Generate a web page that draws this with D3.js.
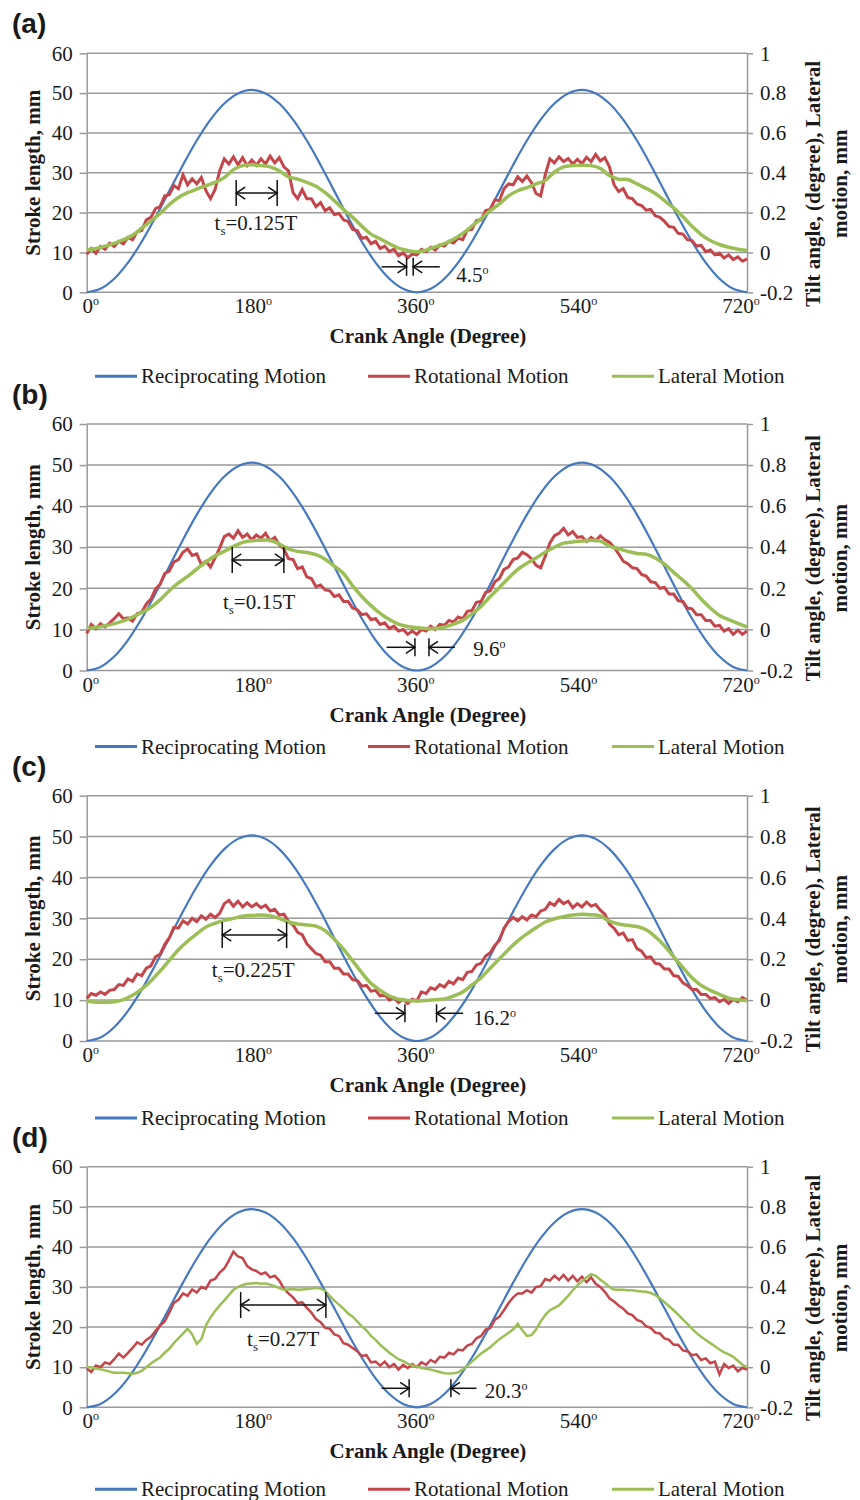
<!DOCTYPE html>
<html>
<head>
<meta charset="utf-8">
<script src="https://cdn.jsdelivr.net/npm/d3@7"></script>
<style>
  body { margin: 0; background: #fff; }
  text { font-family: "Liberation Serif", "Times New Roman", serif; fill: #1a1a1a; }
  text.plabel { font-family: "Liberation Sans", Arial, sans-serif; }
</style>
</head>
<body>
<script>
// axis ticks and names
var leftTicks = [0, 10, 20, 30, 40, 50, 60];
var rightTicks = [-0.2, 0, 0.2, 0.4, 0.6, 0.8, 1];
var angleTicks = [0, 180, 360, 540, 720];
var seriesNames = ["Reciprocating Motion", "Rotational Motion", "Lateral Motion"];
var panelLabels = ["(a)", "(b)", "(c)", "(d)"];

// reciprocating motion, stroke length mm, every 15 deg
var recipA = [0,0.87,3.4,7.44,12.7,18.83,25.4,31.97,38.1,43.36,47.4,49.93,50.8,49.93,47.4,43.36,38.1,31.97,25.4,18.83,12.7,7.44,3.4,0.87,0,0.87,3.4,7.44,12.7,18.83,25.4,31.97,38.1,43.36,47.4,49.93,50.8,49.93,47.4,43.36,38.1,31.97,25.4,18.83,12.7,7.44,3.4,0.87,0];
var recipB = [0,0.86,3.39,7.41,12.65,18.75,25.3,31.85,37.95,43.19,47.21,49.74,50.6,49.74,47.21,43.19,37.95,31.85,25.3,18.75,12.65,7.41,3.39,0.86,0,0.86,3.39,7.41,12.65,18.75,25.3,31.85,37.95,43.19,47.21,49.74,50.6,49.74,47.21,43.19,37.95,31.85,25.3,18.75,12.65,7.41,3.39,0.86,0];
var recipC = [0,0.86,3.37,7.37,12.58,18.64,25.15,31.66,37.73,42.94,46.93,49.44,50.3,49.44,46.93,42.94,37.73,31.66,25.15,18.64,12.58,7.37,3.37,0.86,0,0.86,3.37,7.37,12.58,18.64,25.15,31.66,37.73,42.94,46.93,49.44,50.3,49.44,46.93,42.94,37.73,31.66,25.15,18.64,12.58,7.37,3.37,0.86,0];
var recipD = [0,0.84,3.31,7.23,12.35,18.31,24.7,31.09,37.05,42.17,46.09,48.56,49.4,48.56,46.09,42.17,37.05,31.09,24.7,18.31,12.35,7.23,3.31,0.84,0,0.84,3.31,7.23,12.35,18.31,24.7,31.09,37.05,42.17,46.09,48.56,49.4,48.56,46.09,42.17,37.05,31.09,24.7,18.31,12.35,7.23,3.31,0.84,0];

// rotational motion, tilt angle deg (right axis), every 5 deg
var rotA = [-0.01,0.02,-0.004,0.03,0.016,0.046,0.03,0.056,0.044,0.076,
  0.064,0.104,0.11,0.164,0.176,0.22,0.23,0.284,0.29,0.336,
  0.32,0.39,0.34,0.37,0.344,0.376,0.31,0.27,0.316,0.41,
  0.47,0.444,0.48,0.44,0.476,0.436,0.464,0.438,0.47,0.444,
  0.484,0.45,0.476,0.43,0.41,0.3,0.27,0.316,0.27,0.27,
  0.23,0.25,0.21,0.224,0.19,0.196,0.164,0.156,0.116,0.11,
  0.07,0.076,0.044,0.056,0.02,0.032,0.004,0.016,-0.016,-0.002,
  -0.026,-0.008,-0.012,0.016,0.004,0.026,0.012,0.038,0.032,0.056,
  0.048,0.072,0.064,0.112,0.116,0.16,0.164,0.21,0.216,0.264,
  0.26,0.32,0.344,0.34,0.38,0.356,0.384,0.35,0.296,0.284,
  0.39,0.47,0.45,0.48,0.456,0.472,0.444,0.468,0.446,0.478,
  0.456,0.492,0.46,0.476,0.43,0.34,0.306,0.32,0.276,0.27,
  0.244,0.236,0.212,0.216,0.184,0.176,0.156,0.13,0.126,0.096,
  0.092,0.064,0.06,0.032,0.036,0.004,0.012,-0.012,-0.004,-0.028,
  -0.012,-0.036,-0.022,-0.044,-0.032];
var rotB = [-0.02,0.024,0.004,0.028,0.012,0.032,0.052,0.076,0.052,0.056,
  0.04,0.076,0.084,0.124,0.148,0.196,0.22,0.272,0.284,0.328,
  0.34,0.376,0.392,0.36,0.368,0.316,0.332,0.304,0.348,0.396,
  0.452,0.464,0.444,0.48,0.448,0.464,0.436,0.46,0.444,0.468,
  0.432,0.448,0.412,0.392,0.344,0.34,0.296,0.304,0.256,0.248,
  0.208,0.216,0.192,0.188,0.16,0.168,0.136,0.136,0.104,0.096,
  0.072,0.076,0.048,0.052,0.024,0.032,0.004,0.016,-0.008,0,
  -0.024,-0.008,-0.024,0,-0.008,0.016,0,0.024,0.02,0.044,
  0.036,0.06,0.052,0.088,0.092,0.132,0.136,0.18,0.188,0.232,
  0.248,0.292,0.304,0.34,0.348,0.376,0.364,0.344,0.312,0.3,
  0.356,0.42,0.456,0.468,0.492,0.46,0.476,0.448,0.452,0.428,
  0.448,0.432,0.456,0.436,0.424,0.4,0.368,0.332,0.32,0.3,
  0.296,0.268,0.26,0.232,0.228,0.2,0.204,0.172,0.172,0.14,
  0.136,0.104,0.1,0.072,0.072,0.044,0.044,0.016,0.02,-0.008,
  0.004,-0.024,-0.004,-0.024,-0.008];
var rotC = [0.008,0.032,0.024,0.04,0.028,0.048,0.052,0.076,0.072,0.104,
  0.092,0.128,0.12,0.156,0.168,0.212,0.224,0.272,0.304,0.356,
  0.352,0.388,0.372,0.4,0.384,0.412,0.396,0.42,0.404,0.424,
  0.472,0.488,0.46,0.484,0.456,0.476,0.456,0.472,0.452,0.464,
  0.436,0.444,0.416,0.42,0.384,0.368,0.332,0.32,0.276,0.252,
  0.228,0.22,0.188,0.188,0.156,0.156,0.128,0.128,0.1,0.096,
  0.068,0.072,0.044,0.048,0.02,0.028,0,0.012,-0.012,0.004,
  -0.016,0.004,-0.004,0.04,0.032,0.06,0.052,0.076,0.064,0.092,
  0.08,0.108,0.1,0.136,0.14,0.172,0.18,0.216,0.232,0.268,
  0.292,0.352,0.384,0.404,0.388,0.408,0.392,0.416,0.408,0.436,
  0.444,0.476,0.464,0.492,0.472,0.484,0.452,0.472,0.456,0.48,
  0.46,0.468,0.44,0.42,0.372,0.352,0.32,0.328,0.292,0.296,
  0.252,0.24,0.208,0.212,0.18,0.176,0.152,0.152,0.12,0.116,
  0.084,0.072,0.052,0.052,0.028,0.028,0.008,0.012,-0.008,0.004,
  -0.016,0.004,-0.008,0.012,0];
var rotD = [-0.006,-0.024,0.008,0,0.024,0.016,0.04,0.068,0.048,0.072,
  0.096,0.124,0.112,0.136,0.152,0.18,0.208,0.228,0.272,0.32,
  0.336,0.368,0.356,0.388,0.372,0.4,0.392,0.432,0.44,0.472,
  0.492,0.532,0.576,0.552,0.544,0.504,0.488,0.48,0.464,0.472,
  0.448,0.456,0.432,0.392,0.368,0.348,0.32,0.324,0.296,0.272,
  0.24,0.224,0.196,0.192,0.164,0.156,0.12,0.112,0.096,0.08,
  0.056,0.06,0.024,0.028,0.008,0.028,0,0.016,-0.012,0.012,
  -0.004,0.016,0,0.024,0.012,0.036,0.024,0.052,0.048,0.072,
  0.064,0.088,0.084,0.108,0.116,0.144,0.156,0.188,0.196,0.236,
  0.252,0.284,0.32,0.348,0.368,0.368,0.384,0.372,0.4,0.404,
  0.44,0.432,0.456,0.436,0.46,0.432,0.456,0.428,0.452,0.424,
  0.448,0.416,0.4,0.376,0.344,0.328,0.308,0.292,0.268,0.26,
  0.236,0.228,0.204,0.196,0.172,0.168,0.144,0.136,0.112,0.112,
  0.084,0.08,0.06,0.064,0.036,0.044,0.02,0.028,-0.036,0.016,
  -0.004,0.008,-0.02,-0.004,-0.012];

// lateral motion, mm (right axis), every 10 deg for a-c, every 5 deg for d
var latA = [0.012,0.02,0.032,0.046,0.064,0.086,0.122,0.158,0.196,0.24,
  0.276,0.3,0.318,0.336,0.352,0.376,0.416,0.436,0.44,0.436,
  0.43,0.41,0.38,0.368,0.352,0.332,0.3,0.26,0.216,0.176,
  0.132,0.092,0.068,0.044,0.022,0.01,0.004,0.012,0.028,0.044,
  0.066,0.096,0.132,0.17,0.21,0.244,0.284,0.31,0.326,0.344,
  0.362,0.404,0.43,0.436,0.438,0.436,0.422,0.386,0.368,0.366,
  0.344,0.322,0.296,0.26,0.224,0.18,0.132,0.09,0.06,0.04,
  0.026,0.016,0.01];
var latB = [0.006,0.01,0.018,0.028,0.042,0.06,0.082,0.108,0.144,0.188,
  0.226,0.258,0.294,0.328,0.358,0.38,0.404,0.424,0.432,0.434,
  0.434,0.416,0.392,0.38,0.374,0.364,0.342,0.308,0.272,0.212,
  0.16,0.116,0.078,0.048,0.026,0.014,0.008,0.004,0.004,0.012,
  0.026,0.044,0.076,0.112,0.16,0.204,0.25,0.292,0.322,0.348,
  0.376,0.4,0.42,0.426,0.43,0.434,0.43,0.406,0.392,0.38,
  0.37,0.366,0.348,0.318,0.278,0.24,0.198,0.148,0.104,0.068,
  0.048,0.03,0.012];
var latC = [-0.006,-0.01,-0.01,-0.008,0.002,0.024,0.054,0.094,0.142,0.194,
  0.246,0.288,0.324,0.358,0.376,0.39,0.4,0.41,0.414,0.416,
  0.412,0.4,0.382,0.372,0.368,0.362,0.34,0.298,0.25,0.192,
  0.134,0.082,0.048,0.02,0.004,-0.002,-0.004,-0.002,0.002,0.006,
  0.02,0.04,0.074,0.11,0.156,0.202,0.248,0.29,0.324,0.354,
  0.382,0.398,0.408,0.416,0.42,0.418,0.412,0.386,0.372,0.366,
  0.36,0.344,0.31,0.266,0.212,0.16,0.11,0.072,0.048,0.028,
  0.01,0.002,-0.002];
var latD = [0.002,-0.002,-0.006,-0.01,-0.016,-0.022,-0.028,-0.028,-0.028,-0.03,
  -0.034,-0.028,-0.018,0,0.018,0.034,0.048,0.072,0.092,0.12,
  0.144,0.168,0.192,0.164,0.116,0.14,0.208,0.248,0.28,0.308,
  0.332,0.36,0.386,0.4,0.41,0.416,0.418,0.42,0.416,0.418,
  0.412,0.404,0.394,0.386,0.388,0.39,0.386,0.388,0.39,0.392,
  0.396,0.392,0.38,0.356,0.332,0.312,0.292,0.268,0.252,0.228,
  0.204,0.184,0.156,0.136,0.112,0.092,0.072,0.056,0.04,0.03,
  0.018,0.008,0.004,-0.004,-0.008,-0.012,-0.018,-0.024,-0.03,-0.032,
  -0.03,-0.026,-0.012,0.008,0.028,0.048,0.068,0.084,0.1,0.12,
  0.14,0.156,0.172,0.188,0.216,0.184,0.156,0.16,0.188,0.228,
  0.26,0.284,0.296,0.308,0.332,0.356,0.384,0.408,0.428,0.448,
  0.464,0.456,0.436,0.42,0.4,0.388,0.386,0.386,0.384,0.384,
  0.38,0.378,0.376,0.37,0.36,0.344,0.324,0.304,0.284,0.262,
  0.238,0.216,0.192,0.17,0.152,0.136,0.12,0.104,0.088,0.074,
  0.064,0.052,0.032,0.012,0];

// annotations: dwell bracket [from deg, to deg, stroke mm], label [text, deg, mm]
var tsA = [163, 207.7, 24.9], tsLabelA = ["=0.125T", 184.6, 17.4];
var tsB = [158.7, 215, 26.9], tsLabelB = ["=0.15T", 188, 16.7];
var tsC = [147.8, 218, 25.9], tsLabelC = ["=0.225T", 181.6, 17.4];
var tsD = [167.9, 260.8, 25.5], tsLabelD = ["=0.27T", 214.3, 17];
// phase lag arrows [arrow start, bar 1, bar 2, arrow start, mm], label [text, deg, mm]
var lagA = [321.5, 348.8, 356, 385, 6.4], lagLabelA = ["4.5", 403, 4.3];
var lagB = [327, 357.9, 373.2, 401.5, 5.65], lagLabelB = ["9.6", 421.4, 5.2];
var lagC = [314.2, 347, 381.5, 410.5, 6.78], lagLabelC = ["16.2", 421.4, 5.55];
var lagD = [321.5, 351.6, 397.1, 425, 4.74], lagLabelD = ["20.3", 434.1, 4.14];

var colors = ["#4479c0", "#c4454a", "#9bbf55"];
var gridColor = "#9a9a9a";
var left = 86.7, right = 747;

var panels = [
  {top: 53.3, bottom: 292.3, legendDy: 84, recip: recipA, rot: rotA, rotW: 3, lat: latA, latW: 3.5, ts: tsA, tsLabel: tsLabelA, lag: lagA, lagLabel: lagLabelA},
  {top: 424, bottom: 670.5, legendDy: 76, recip: recipB, rot: rotB, rotW: 3, lat: latB, latW: 3.5, ts: tsB, tsLabel: tsLabelB, lag: lagB, lagLabel: lagLabelB},
  {top: 795.7, bottom: 1041, legendDy: 77, recip: recipC, rot: rotC, rotW: 3, lat: latC, latW: 3.5, ts: tsC, tsLabel: tsLabelC, lag: lagC, lagLabel: lagLabelC},
  {top: 1166.7, bottom: 1407.3, legendDy: 82, recip: recipD, rot: rotD, rotW: 2.5, lat: latD, latW: 2.5, ts: tsD, tsLabel: tsLabelD, lag: lagD, lagLabel: lagLabelD}
];

var svg = d3.select("body").append("svg")
  .attr("width", 860)
  .attr("height", 1500);

function arrowHead(g, x, y, dir) {
  // open arrow head, dir = 1 points right, -1 points left
  g.append("path")
    .attr("d", "M" + (x - dir * 9) + "," + (y - 6) + "L" + x + "," + y + "L" + (x - dir * 9) + "," + (y + 6))
    .attr("fill", "none").attr("stroke", "#111").attr("stroke-width", 1.5);
}

function drawPanel(p, k) {
  var g = svg.append("g");
  var x = d3.scaleLinear().domain([0, 720]).range([left, right]);
  var xLab = d3.scaleLinear().domain([0, 720]).range([left + 4, right - 6]);
  var y = d3.scaleLinear().domain([0, 60]).range([p.bottom, p.top]);
  var y2 = d3.scaleLinear().domain([-0.2, 1]).range([p.bottom, p.top]);
  var mid = (p.top + p.bottom) / 2;

  // gridlines
  g.selectAll(".grid").data(leftTicks).enter().append("line")
    .attr("x1", left).attr("x2", right)
    .attr("y1", function(d) { return y(d); })
    .attr("y2", function(d) { return y(d); })
    .attr("stroke", gridColor).attr("stroke-width", 1.5);

  // left and right axes
  var axL = g.append("g").attr("transform", "translate(" + left + ",0)")
    .call(d3.axisLeft(y).tickValues(leftTicks).tickSize(7).tickSizeOuter(0).tickPadding(7));
  var axR = g.append("g").attr("transform", "translate(" + right + ",0)")
    .call(d3.axisRight(y2).tickValues(rightTicks).tickSize(6).tickSizeOuter(0).tickPadding(7)
      .tickFormat(function(d) { return String(d); }));
  [axL, axR].forEach(function(a) {
    a.select(".domain").attr("stroke", gridColor).attr("stroke-width", 1.5);
    a.selectAll(".tick line").attr("stroke", gridColor).attr("stroke-width", 1.5);
    a.selectAll(".tick text").attr("font-size", 21).attr("fill", "#1a1a1a");
  });

  // crank angle labels
  var xl = g.selectAll(".xl").data(angleTicks).enter().append("text")
    .attr("x", function(d) { return xLab(d); })
    .attr("y", p.bottom + 21)
    .attr("text-anchor", "middle")
    .attr("font-size", 21);
  xl.append("tspan").text(function(d) { return d; });
  xl.append("tspan").text("o").attr("font-size", 12).attr("dy", -8);

  // series lines
  var recipLine = d3.line()
    .x(function(d, i) { return x(i * 720 / (p.recip.length - 1)); })
    .y(function(d) { return y(d); })
    .curve(d3.curveCatmullRom);
  var rotLine = d3.line()
    .x(function(d, i) { return x(i * 720 / (p.rot.length - 1)); })
    .y(function(d) { return y2(d); });
  var latLine = d3.line()
    .x(function(d, i) { return x(i * 720 / (p.lat.length - 1)); })
    .y(function(d) { return y2(d); })
    .curve(p.lat.length > 100 ? d3.curveLinear : d3.curveCatmullRom);

  g.append("path").datum(p.recip).attr("d", recipLine)
    .attr("fill", "none").attr("stroke", colors[0]).attr("stroke-width", 2.2);
  g.append("path").datum(p.rot).attr("d", rotLine)
    .attr("fill", "none").attr("stroke", colors[1]).attr("stroke-width", p.rotW).attr("stroke-linejoin", "miter");
  g.append("path").datum(p.lat).attr("d", latLine)
    .attr("fill", "none").attr("stroke", colors[2]).attr("stroke-width", p.latW);

  // dwell bracket
  var ty = y(p.ts[2]);
  [p.ts[0], p.ts[1]].forEach(function(a) {
    g.append("line").attr("x1", x(a)).attr("x2", x(a))
      .attr("y1", ty - 13).attr("y2", ty + 13)
      .attr("stroke", "#111").attr("stroke-width", 1.5);
  });
  g.append("line").attr("x1", x(p.ts[0])).attr("x2", x(p.ts[1]))
    .attr("y1", ty).attr("y2", ty).attr("stroke", "#111").attr("stroke-width", 1.5);
  arrowHead(g, x(p.ts[0]), ty, -1);
  arrowHead(g, x(p.ts[1]), ty, 1);
  var tt = g.append("text").attr("x", x(p.tsLabel[1])).attr("y", y(p.tsLabel[2]) + 7)
    .attr("text-anchor", "middle").attr("font-size", 21);
  tt.append("tspan").text("t");
  tt.append("tspan").text("s").attr("font-size", 13).attr("dy", 5);
  tt.append("tspan").text(p.tsLabel[0]).attr("dy", -5);

  // phase lag arrows
  var ly = y(p.lag[4]);
  [p.lag[1], p.lag[2]].forEach(function(a) {
    g.append("line").attr("x1", x(a)).attr("x2", x(a))
      .attr("y1", ly - 9).attr("y2", ly + 9)
      .attr("stroke", "#111").attr("stroke-width", 1.5);
  });
  g.append("line").attr("x1", x(p.lag[0])).attr("x2", x(p.lag[1]))
    .attr("y1", ly).attr("y2", ly).attr("stroke", "#111").attr("stroke-width", 1.5);
  g.append("line").attr("x1", x(p.lag[3])).attr("x2", x(p.lag[2]))
    .attr("y1", ly).attr("y2", ly).attr("stroke", "#111").attr("stroke-width", 1.5);
  arrowHead(g, x(p.lag[1]), ly, 1);
  arrowHead(g, x(p.lag[2]), ly, -1);
  var lt = g.append("text").attr("x", x(p.lagLabel[1])).attr("y", y(p.lagLabel[2]) + 7)
    .attr("font-size", 21);
  lt.append("tspan").text(p.lagLabel[0]);
  lt.append("tspan").text("o").attr("font-size", 12).attr("dy", -8);

  // axis titles
  g.append("text").text("Crank Angle (Degree)")
    .attr("x", (left + right) / 2 + 11).attr("y", p.bottom + 51)
    .attr("text-anchor", "middle").attr("font-size", 21).attr("font-weight", "bold");
  g.append("text").text("Stroke length, mm")
    .attr("transform", "translate(33," + mid + ") rotate(-90)")
    .attr("text-anchor", "middle").attr("dominant-baseline", "central")
    .attr("font-size", 21).attr("font-weight", "bold");
  ["Tilt angle, (degree), Lateral", "motion, mm"].forEach(function(s, i) {
    g.append("text").text(s)
      .attr("transform", "translate(" + (813 + i * 27) + "," + (mid + 11) + ") rotate(-90)")
      .attr("text-anchor", "middle").attr("dominant-baseline", "central")
      .attr("font-size", 21).attr("font-weight", "bold");
  });

  // panel label
  g.append("text").text(panelLabels[k])
    .attr("class", "plabel")
    .attr("x", 12).attr("y", p.top - 20)
    .attr("font-size", 28).attr("font-weight", "bold");

  // legend
  var legY = p.bottom + p.legendDy;
  var legX = [95, 368, 612];
  seriesNames.forEach(function(s, i) {
    g.append("line").attr("x1", legX[i]).attr("x2", legX[i] + 42)
      .attr("y1", legY).attr("y2", legY)
      .attr("stroke", colors[i]).attr("stroke-width", 3);
    g.append("text").text(s).attr("x", legX[i] + 46).attr("y", legY + 7)
      .attr("font-size", 21);
  });
}

panels.forEach(drawPanel);
</script>
</body>
</html>
